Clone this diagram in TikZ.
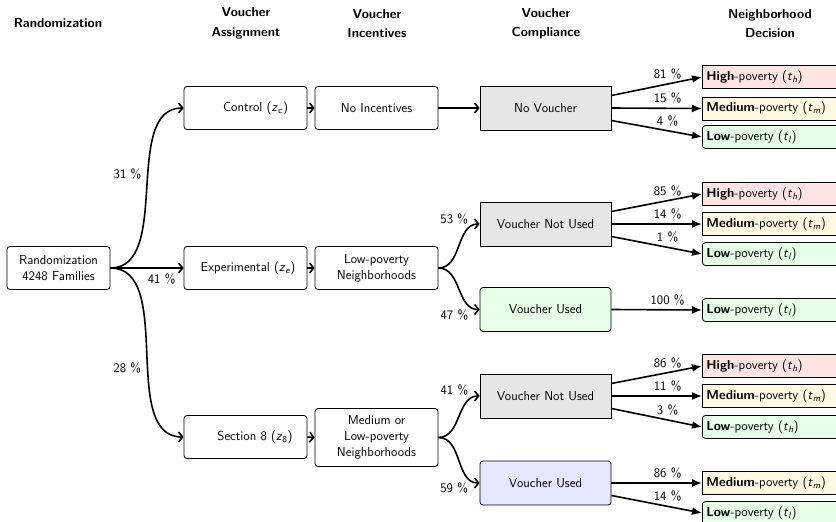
\documentclass[tikz,border=0pt]{standalone}
\usepackage{fontspec}
\renewcommand\familydefault{\sfdefault}
\usetikzlibrary{arrows.meta}
\definecolor{grayc}{HTML}{E6E6E6}
\definecolor{highc}{HTML}{FFE4E4}
\definecolor{medc}{HTML}{FFF8E2}
\definecolor{lowc}{HTML}{E6FFE6}
\definecolor{bluec}{HTML}{E6E6FF}
\newcommand\vsub[2]{\textit{#1}\textsubscript{\textit{#2}}}
\begin{document}
\sffamily
\begin{tikzpicture}[x=1pt,y=-1pt,
  font=\sffamily\fontsize{13}{16}\selectfont,
  box/.style={draw, line width=0.8pt, rounded corners=3pt, fill=white, minimum width=123pt, minimum height=43pt, align=center, inner sep=2pt},
  comp/.style={draw, line width=0.8pt, minimum width=131pt, minimum height=44pt, align=center},
  outc/.style={draw, line width=0.8pt, anchor=west, minimum height=23pt, text width=150pt, align=left, inner sep=4pt},
  flow/.style={line width=1.6pt, -{Straight Barb[length=4pt,width=10pt]}},
  oarr/.style={line width=1.6pt, -{Latex[length=10pt,width=8pt]}},
  hdr/.style={font=\sffamily\fontsize{13}{19.5}\selectfont\bfseries, align=center},
  pct/.style={inner sep=2pt}]
\useasboundingbox (0,0) rectangle (836,522);
% headers
\node[hdr] (h1) at (58,23) {Randomization};
\node[hdr] (h2) at (246,23.5) {Voucher\\Assignment};
\node[hdr] (h3) at (377,23.5) {Voucher\\Incentives};
\node[hdr] (h4) at (546,23.5) {Voucher\\Compliance};
\node[hdr] (h5) at (770,23.5) {Neighborhood\\Decision};
% column 1
\node[box, minimum width=103pt] (rand) at (58.5,268) {Randomization\\4248 Families};
% column 2
\node[box] (ctrl) at (245.5,108) {\hspace*{20pt}Control (\vsub{z}{c})};
\node[box] (exp) at (245.5,268) {\hspace*{5pt}Experimental (\vsub{z}{e})};
\node[box] (s8) at (245.5,437) {\hspace*{19pt}Section 8 (\textit{z}\textsubscript{8})};
% column 3
\node[box] (noinc) at (376.5,108) {No Incentives};
\node[box] (lowinc) at (376.5,268) {Low-poverty\\Neighborhoods};
\node[box, minimum height=58pt] (medinc) at (376.5,437.5) {Medium or\\Low-poverty\\Neighborhoods};
% column 4
\node[comp, fill=grayc] (nv) at (545.5,108) {No Voucher};
\node[comp, fill=grayc] (enu) at (545.5,224) {Voucher Not Used};
\node[comp, fill=lowc, rounded corners=3pt] (eu) at (545.5,309.5) {Voucher Used};
\node[comp, fill=grayc] (snu) at (545.5,396) {Voucher Not Used};
\node[comp, fill=bluec, rounded corners=3pt] (su) at (545.5,483) {Voucher Used};
% outcomes
\node[outc, fill=highc] (c1h) at (702,77) {\textbf{High}-poverty (\vsub{t}{h})};
\node[outc, fill=medc] (c1m) at (702,108.5) {\textbf{Medium}-poverty (\vsub{t}{m})};
\node[outc, fill=lowc, rounded corners=3pt] (c1l) at (702,137) {\textbf{Low}-poverty (\vsub{t}{l})};
\node[outc, fill=highc] (e1h) at (702,194) {\textbf{High}-poverty (\vsub{t}{h})};
\node[outc, fill=medc] (e1m) at (702,224) {\textbf{Medium}-poverty (\vsub{t}{m})};
\node[outc, fill=lowc, rounded corners=3pt] (e1l) at (702,254) {\textbf{Low}-poverty (\vsub{t}{l})};
\node[outc, fill=lowc, rounded corners=3pt] (e2l) at (702,310) {\textbf{Low}-poverty (\vsub{t}{l})};
\node[outc, fill=highc] (s1h) at (702,366) {\textbf{High}-poverty (\vsub{t}{h})};
\node[outc, fill=medc] (s1m) at (702,396) {\textbf{Medium}-poverty (\vsub{t}{m})};
\node[outc, fill=lowc, rounded corners=3pt] (s1l) at (702,427) {\textbf{Low}-poverty (\vsub{t}{h})};
\node[outc, fill=medc] (s2m) at (702,483) {\textbf{Medium}-poverty (\vsub{t}{m})};
\node[outc, fill=lowc, rounded corners=3pt] (s2l) at (702,513) {\textbf{Low}-poverty (\vsub{t}{l})};
% randomization arrows
\draw[flow] (rand.east) to[out=0,in=180,looseness=0.9] node[pct, pos=0.56, left=4pt] {31 \%} (ctrl.west);
\draw[flow] (rand.east) -- node[pct, pos=0.7, below=3pt] {41 \%} (exp.west);
\draw[flow] (rand.east) to[out=0,in=180,looseness=0.9] node[pct, pos=0.56, left=4pt] {28 \%} (s8.west);
% assignment to incentives
\draw[flow] (ctrl.east) -- (noinc.west);
\draw[flow] (exp.east) -- (lowinc.west);
\draw[flow] (s8.east) -- (medinc.west);
% incentives to compliance
\draw[flow] (noinc.east) -- (nv.west);
\draw[flow] (lowinc.east) to[out=0,in=180] node[pct, pos=0.85, above left] {53 \%} (enu.west);
\draw[flow] (lowinc.east) to[out=0,in=180] node[pct, pos=0.85, below left] {47 \%} (eu.west);
\draw[flow] (medinc.east) to[out=0,in=180] node[pct, pos=0.85, above left] {41 \%} (snu.west);
\draw[flow] (medinc.east) to[out=0,in=180] node[pct, pos=0.85, below left] {59 \%} (su.west);
% outcomes
\draw[oarr] ([yshift=12.5pt]nv.east) -- node[pct, pos=0.62, above=2pt] {81 \%} (c1h.west);
\draw[oarr] (nv.east) -- node[pct, pos=0.62, above=2pt] {15 \%} (c1m.west);
\draw[oarr] ([yshift=-12.5pt]nv.east) -- node[pct, pos=0.62, above=2pt] {4 \%} (c1l.west);
\draw[oarr] ([yshift=12.5pt]enu.east) -- node[pct, pos=0.62, above=2pt] {85 \%} (e1h.west);
\draw[oarr] (enu.east) -- node[pct, pos=0.62, above=2pt] {14 \%} (e1m.west);
\draw[oarr] ([yshift=-12.5pt]enu.east) -- node[pct, pos=0.62, above=2pt] {1 \%} (e1l.west);
\draw[oarr] (eu.east) -- node[pct, pos=0.62, above=2pt] {100 \%} (e2l.west);
\draw[oarr] ([yshift=12.5pt]snu.east) -- node[pct, pos=0.62, above=2pt] {86 \%} (s1h.west);
\draw[oarr] (snu.east) -- node[pct, pos=0.62, above=2pt] {11 \%} (s1m.west);
\draw[oarr] ([yshift=-12.5pt]snu.east) -- node[pct, pos=0.62, above=2pt] {3 \%} (s1l.west);
\draw[oarr] (su.east) -- node[pct, pos=0.62, above=2pt] {86 \%} (s2m.west);
\draw[oarr] ([yshift=-12.5pt]su.east) -- node[pct, pos=0.62, above=2pt] {14 \%} (s2l.west);
\end{tikzpicture}
\end{document}
